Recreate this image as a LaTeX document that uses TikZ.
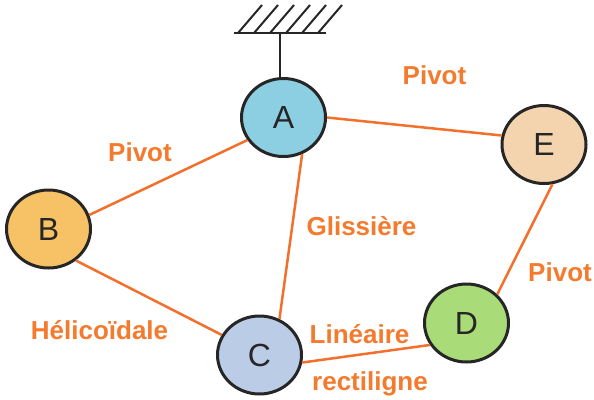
\documentclass[tikz,border=0pt]{standalone}
\usepackage{fontspec}
\setmainfont{Liberation Sans}
\usetikzlibrary{shapes.geometric}
\definecolor{lab}{HTML}{F47A2E}
\definecolor{edge}{HTML}{F2702C}
\definecolor{ink}{HTML}{262626}
\definecolor{fA}{HTML}{8DCFE2}
\definecolor{fB}{HTML}{F6C265}
\definecolor{fC}{HTML}{BBCDE6}
\definecolor{fD}{HTML}{A9DC78}
\definecolor{fE}{HTML}{F3D4AF}
\begin{document}
\begin{tikzpicture}[x=1pt,y=-1pt,
  part/.style={ellipse,draw=ink,line width=3pt,minimum width=84pt,minimum height=78pt,inner sep=0pt,
    text=ink,font=\fontsize{32}{32}\selectfont},
  liaison/.style={draw=edge,line width=2.5pt},
  lbl/.style={anchor=base,text=lab,inner sep=0pt,font=\fontsize{26}{26}\selectfont\bfseries}]
\useasboundingbox (0,0) rectangle (594,399);
\fill[white] (0,0) rectangle (594,399);
% nodes
\node[part,fill=fA] (A) at (283.5,117.5) {A};
\node[part,fill=fB] (B) at (48.5,229) {B};
\node[part,fill=fC] (C) at (259.5,355) {C};
\node[part,fill=fD] (D) at (466.5,323) {D};
\node[part,fill=fE] (E) at (544,144.5) {E};
% ground
\coordinate (g) at (280,33);
\coordinate (gl) at (234,33);
\coordinate (gr) at (326,33);
\draw[ink,line width=2.4pt] (gl) -- (gr);
\foreach \x in {238,254,270,286,302,318}
  \draw[ink,line width=2pt] (\x,33) -- ++(24,-28);
\draw[ink,line width=2.4pt] (g) -- (g |- A.north);
% connectors
\draw[liaison] (A.0) -- (E.168.6);
\draw[liaison] (A.-148) -- (B.19.5);
\draw[liaison] (A.-63) -- (C.61);
\draw[liaison] (B.-49.5) -- (C.152);
\draw[liaison] (C.-10) -- (D.-149);
\draw[liaison] (E.-78.5) -- (D.43);
% labels
\node[lbl] (l1) at (434.5,84) {Pivot};
\node[lbl] (l2) at (140,161.7) {Pivot};
\node[lbl] (l3) at (361.5,235) {Glissière};
\node[lbl] (l4) at (99.5,339) {Hélicoïdale};
\node[lbl] (l5) at (359.5,343) {Linéaire};
\node[lbl] (l6) at (370,390) {rectiligne};
\node[lbl] (l7) at (560,281) {Pivot};
\end{tikzpicture}
\end{document}
